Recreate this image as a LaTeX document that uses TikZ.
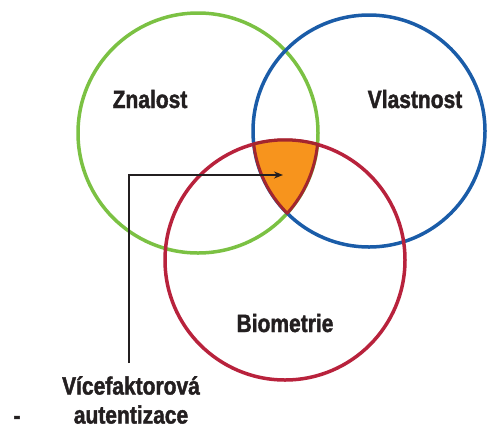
\documentclass[tikz,border=0pt]{standalone}
\usepackage{fontspec}
\newfontfamily\lblfont{Liberation Sans}[FakeStretch=0.84, BoldFeatures={FakeBold=1.6}]
\usetikzlibrary{arrows.meta}
\definecolor{cgreen}{HTML}{7BC143}
\definecolor{cblue}{HTML}{1A5CA8}
\definecolor{cred}{HTML}{B8223C}
\definecolor{corange}{HTML}{F7941D}
\definecolor{cborder}{HTML}{A3262E}
\definecolor{ctext}{HTML}{231F20}
\tikzset{
  ring/.style={line width=3.5pt},
  lbl/.style={font=\lblfont\bfseries\fontsize{25}{29}\selectfont, text=ctext, inner sep=0pt, anchor=base},
  pointer/.style={line width=1.5pt, draw=ctext, -{Stealth[length=9pt,width=7pt]}}
}
\begin{document}
\begin{tikzpicture}[x=1pt,y=-1pt]
  \useasboundingbox (0,0) rectangle (487,429);
  % the three sets
  \draw[ring, cgreen] (198,133) circle[radius=120];
  \draw[ring, cblue]  (369,131) circle[radius=116];
  \draw[ring, cred]   (285,260) circle[radius=120];
  % common part of all three sets
  \filldraw[fill=corange, draw=cborder, line width=3pt, line join=round]
    (253.74,144.14) arc[start angle=-105.1, end angle=-74.3, radius=120]
    arc[start angle=5.49, end angle=41.97, radius=120]
    arc[start angle=134.83, end angle=173.5, radius=116] -- cycle;
  % labels
  \node[lbl] (zn) at (150,108) {Znalost};
  \node[lbl] (vl) at (415,108) {Vlastnost};
  \node[lbl] (bio) at (285,332) {Biometrie};
  \node[lbl, anchor=north, align=center] (mfa) at (131,376) {Vícefaktorová\\autentizace};
  \node[lbl, anchor=center] (dash) at (17,420) {-};
  \coordinate (core) at (283,175);
  \draw[pointer, shorten <=13pt] (mfa.north -| 129,0) |- (core);
\end{tikzpicture}
\end{document}
